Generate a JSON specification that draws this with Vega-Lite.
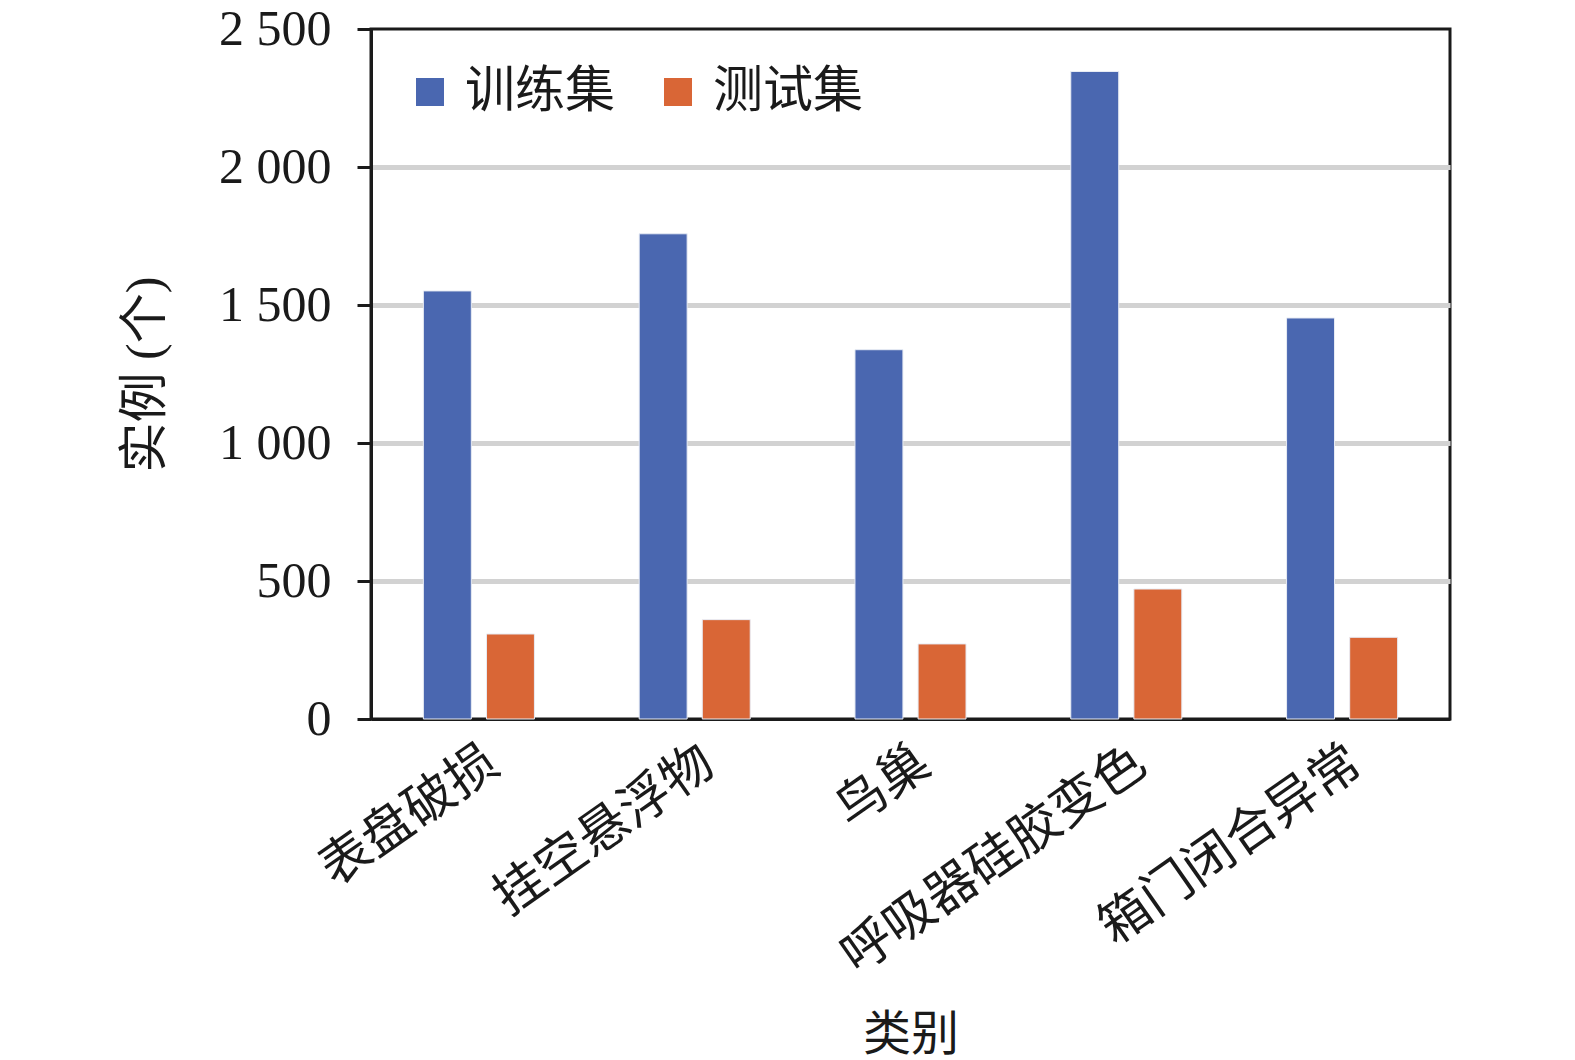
{
  "$schema": "https://vega.github.io/schema/vega-lite/v6.json",
  "width": 1079,
  "height": 690,
  "autosize": "none",
  "padding": {"left": 371, "top": 29, "right": 125, "bottom": 341},
  "background": "white",
  "data": {
    "values": [
      {"category": "表盘破损", "set": "训练集", "count": 1551},
      {"category": "表盘破损", "set": "测试集", "count": 308},
      {"category": "挂空悬浮物", "set": "训练集", "count": 1758},
      {"category": "挂空悬浮物", "set": "测试集", "count": 360},
      {"category": "鸟巢", "set": "训练集", "count": 1338},
      {"category": "鸟巢", "set": "测试集", "count": 272},
      {"category": "呼吸器硅胶变色", "set": "训练集", "count": 2346},
      {"category": "呼吸器硅胶变色", "set": "测试集", "count": 471},
      {"category": "箱门闭合异常", "set": "训练集", "count": 1453},
      {"category": "箱门闭合异常", "set": "测试集", "count": 296}
    ]
  },
  "mark": {"type": "bar", "stroke": "#e8ecf4", "strokeWidth": 1},
  "encoding": {
    "x": {
      "field": "category",
      "type": "nominal",
      "sort": null,
      "title": "类别",
      "scale": {"paddingInner": 0, "paddingOuter": 0},
      "axis": {
        "labelAngle": -35,
        "labelFontSize": 51,
        "labelLimit": 0,
        "labelPadding": 18,
        "ticks": false,
        "domainColor": "#1a1a1a",
        "domainWidth": 3,
        "titleFontSize": 48,
        "titleFontWeight": "normal",
        "titlePadding": 92
      }
    },
    "xOffset": {
      "field": "set",
      "type": "nominal",
      "sort": ["训练集", "测试集"],
      "scale": {"paddingInner": 0.24, "paddingOuter": 0.83}
    },
    "y": {
      "field": "count",
      "type": "quantitative",
      "title": "实例 (个)",
      "scale": {"domain": [0, 2500], "nice": false},
      "axis": {
        "values": [0, 500, 1000, 1500, 2000, 2500],
        "labelExpr": "replace(format(datum.value, ','), ',', ' ')",
        "labelFontSize": 50,
        "labelPadding": 26,
        "tickSize": 14,
        "tickWidth": 3,
        "tickColor": "#1a1a1a",
        "domainColor": "#1a1a1a",
        "domainWidth": 3,
        "gridColor": "#d2d2d2",
        "gridWidth": 5,
        "gridOpacity": {"condition": {"test": "datum.value === 2500 || datum.value === 0", "value": 0}, "value": 1},
        "titleFontSize": 50,
        "titleFontWeight": "normal",
        "titlePadding": 48
      }
    },
    "color": {
      "field": "set",
      "type": "nominal",
      "scale": {"domain": ["训练集", "测试集"], "range": ["#4a67b0", "#d96636"]},
      "legend": {
        "title": null,
        "orient": "none",
        "direction": "horizontal",
        "legendX": 34,
        "legendY": 38,
        "padding": 0,
        "symbolType": "square",
        "symbolSize": 784,
        "symbolStrokeWidth": 0,
        "symbolOpacity": 1,
        "labelFontSize": 50,
        "labelOffset": 10,
        "columnPadding": 38
      }
    }
  },
  "config": {
    "font": "Liberation Serif, Noto Sans CJK SC, serif",
    "axis": {"labelColor": "#1a1a1a", "titleColor": "#1a1a1a"},
    "legend": {"labelColor": "#1a1a1a"},
    "view": {"stroke": "#1a1a1a", "strokeWidth": 3}
  }
}
